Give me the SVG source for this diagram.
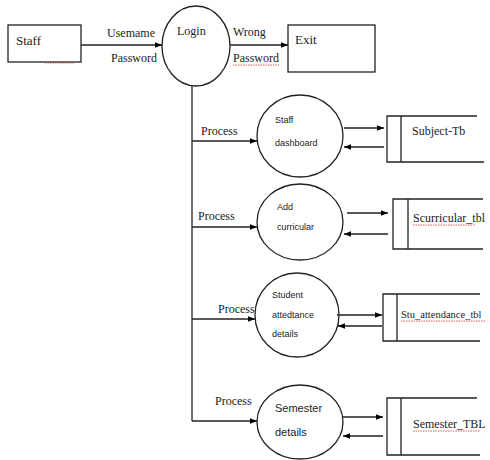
<svg xmlns="http://www.w3.org/2000/svg" width="490" height="460" viewBox="0 0 490 460">
<defs>
<marker id="ah" viewBox="0 0 10 10" refX="10" refY="5" markerWidth="7" markerHeight="7" orient="auto" markerUnits="userSpaceOnUse"><path d="M0,1 L10,5 L0,9 Z" fill="#000"/></marker>
<style>
.s{fill:none;stroke:#222;stroke-width:1.3}
.c{stroke:#222;stroke-width:1.3;fill:none}
.a{marker-end:url(#ah)}
.t{font-family:"Liberation Serif","Times New Roman",serif;font-size:12px;fill:#222}
.ts{font-family:"Liberation Sans",Arial,sans-serif;font-size:9px;fill:#222}
.tm{font-family:"Liberation Sans",Arial,sans-serif;font-size:11px;fill:#222}
.sq{fill:none;stroke:#d33;stroke-width:0.8;stroke-dasharray:1.5 1}
</style>
</defs>
<rect width="490" height="460" fill="#fff"/>
<g id="staff"><rect class="s" x="8" y="25" width="73" height="37"/><text class="t" x="16" y="45" style="font-size:13px">Staff</text><path class="sq" d="M45,63 L75,63"/></g>
<g id="login"><ellipse class="s" cx="196" cy="46" rx="34" ry="40"/><text class="t" x="177" y="35">Login</text></g>
<g id="exit"><rect class="s" x="288" y="25" width="87" height="47"/><text class="t" x="295" y="44" style="font-size:13px">Exit</text></g>
<g id="staff-dashboard"><ellipse class="s" cx="300" cy="136" rx="43" ry="41"/><text class="ts" x="275" y="123">Staff</text><text class="ts" x="275" y="146">dashboard</text></g>
<g id="add-curricular"><ellipse class="s" cx="300" cy="222" rx="43" ry="38"/><text class="ts" x="277" y="210">Add</text><text class="ts" x="277" y="230">curricular</text></g>
<g id="student-attendance"><ellipse class="s" cx="297" cy="315" rx="42" ry="42"/><text class="ts" x="272" y="298">Student</text><text class="ts" x="272" y="318">attedtance</text><text class="ts" x="272" y="337">details</text></g>
<g id="semester-details"><ellipse class="s" cx="300" cy="422" rx="43" ry="37"/><text class="tm" x="275" y="412">Semester</text><text class="tm" x="275" y="436">details</text></g>
<g id="subject-tb"><path class="s" d="M477,116 H387 V162 H484 M401,116 V162"/><text class="t" x="412" y="135">Subject-Tb</text></g>
<g id="scurricular-tbl"><path class="s" d="M483,199 H393 V249 H483 M408,199 V249"/><text class="t" x="413" y="222">Scurricular_tbl</text><path class="sq" d="M413,225 L475,225"/></g>
<g id="stu-attendance-tb"><path class="s" d="M480,294 H383 V341 H480 M397,294 V341"/><text class="t" x="401" y="318" style="font-size:10.5px">Stu_attendance_tbl</text><path class="sq" d="M401,321 L485,321"/></g>
<g id="semester-tbl"><path class="s" d="M477,398 H387 V455 H480 M401,398 V455"/><text class="t" x="413" y="428">Semester_TBL</text><path class="sq" d="M413,431 L480,431"/></g>
<g id="connectors">
<path class="c a" d="M81,45 H162"/>
<text class="t" x="107" y="37">Usemame</text>
<text class="t" x="111" y="62">Password</text>
<path class="c a" d="M230,45 H288"/>
<text class="t" x="233" y="36">Wrong</text>
<text class="t" x="233" y="62">Password</text>
<path class="sq" d="M233,65 L279,65"/>
<path class="c" d="M192,86 V421"/>
<path class="c a" d="M192,141 H257"/>
<text class="t" x="201" y="135">Process</text>
<path class="c a" d="M192,227 H257"/>
<text class="t" x="198" y="220">Process</text>
<path class="c a" d="M192,319 H255"/>
<text class="t" x="218" y="313">Process</text>
<path class="c a" d="M192,421 H257"/>
<text class="t" x="215" y="405">Process</text>
<path class="c a" d="M344,128 H384"/>
<path class="c a" d="M384,147 H344"/>
<path class="c a" d="M347,213 H388"/>
<path class="c a" d="M388,234 H344"/>
<path class="c a" d="M337,315 H382"/>
<path class="c a" d="M382,326 H338"/>
<path class="c a" d="M343,417 H383"/>
<path class="c a" d="M383,436 H343"/>
</g>
</svg>
